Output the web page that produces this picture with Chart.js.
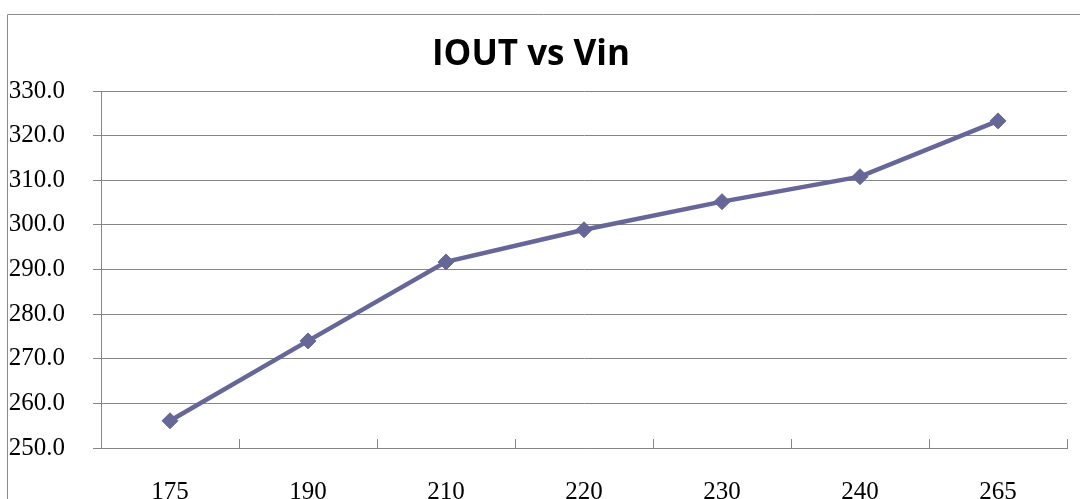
<!DOCTYPE html>
<html>
<head>
<meta charset="utf-8">
<script src="https://cdn.jsdelivr.net/npm/chart.js@4/dist/chart.umd.min.js"></script>
<style>
  html, body { margin: 0; padding: 0; background: #fff; overflow: hidden; }
  #wrap { position: relative; width: 1080px; height: 499px; overflow: hidden; }
  #chart { position: absolute; left: -5px; top: 0; }
</style>
</head>
<body>
<div id="wrap"><canvas id="chart" width="1085" height="499"></canvas></div>
<script>
const vinLabels = ['175', '190', '210', '220', '230', '240', '265'];
const ioutValues = [256.1, 274.0, 291.7, 298.9, 305.2, 310.8, 323.3];
const yMin = 250;
const yMax = 330;
const yStep = 10;

const gridCol = '#868686';
const lineCol = '#666699';

// short tick marks inside the plot, between categories (Excel style)
const insideTicks = {
    id: 'insideTicks',
    afterDatasetsDraw(chart) {
        const ctx = chart.ctx;
        const xs = chart.scales.x;
        const bottom = chart.chartArea.bottom;
        ctx.save();
        ctx.strokeStyle = gridCol;
        ctx.lineWidth = 1;
        for (let i = 0; i <= vinLabels.length; i++) {
            const x = Math.round(xs.getPixelForValue(i - 0.5)) + 0.5;
            ctx.beginPath();
            ctx.moveTo(x, bottom - 9);
            ctx.lineTo(x, bottom);
            ctx.stroke();
        }
        ctx.restore();
    }
};

// outer chart frame (left and top edges visible)
const outerFrame = {
    id: 'outerFrame',
    afterDraw(chart) {
        const ctx = chart.ctx;
        ctx.save();
        ctx.fillStyle = '#fff';
        ctx.fillRect(0, 0, 12, chart.height);
        ctx.strokeStyle = '#8c8c8c';
        ctx.lineWidth = 1;
        ctx.beginPath();
        ctx.moveTo(12.5, chart.height);
        ctx.lineTo(12.5, 14.5);
        ctx.lineTo(chart.width, 14.5);
        ctx.stroke();
        ctx.restore();
    }
};

new Chart(document.getElementById('chart').getContext('2d'), {
    type: 'line',
    data: {
        labels: vinLabels,
        datasets: [{
            label: 'IOUT',
            data: ioutValues,
            borderColor: lineCol,
            backgroundColor: lineCol,
            borderWidth: 4.5,
            tension: 0,
            pointStyle: 'rectRot',
            pointRadius: 8,
            pointBorderWidth: 1,
            pointBackgroundColor: lineCol,
            pointBorderColor: lineCol
        }]
    },
    options: {
        responsive: false,
        animation: false,
        devicePixelRatio: 1,
        layout: { padding: { left: 0, right: 13, top: 0, bottom: 0 } },
        plugins: {
            legend: { display: false },
            tooltip: { enabled: false },
            title: {
                display: true,
                text: 'IOUT vs Vin',
                color: '#000',
                font: { family: '"Open Sans", sans-serif', size: 35, weight: 'bold', lineHeight: 1.2 },
                padding: { top: 34, bottom: 15 }
            }
        },
        scales: {
            x: {
                offset: true,
                grid: { display: false },
                border: { display: true, color: gridCol, width: 1 },
                ticks: {
                    color: '#000',
                    padding: 21,
                    maxRotation: 0,
                    font: { family: '"Liberation Serif", serif', size: 25 }
                },
                afterFit(scale) { scale.height = 51; }
            },
            y: {
                min: yMin,
                max: yMax,
                grid: { color: gridCol, lineWidth: 1, tickLength: 8, drawTicks: true },
                border: { display: true, color: gridCol, width: 1 },
                ticks: {
                    stepSize: yStep,
                    color: '#000',
                    padding: 28,
                    font: { family: '"Liberation Serif", serif', size: 25 },
                    callback: v => v.toFixed(1)
                },
                afterFit(scale) { scale.width = 106; }
            }
        }
    },
    plugins: [insideTicks, outerFrame]
});
</script>
</body>
</html>
